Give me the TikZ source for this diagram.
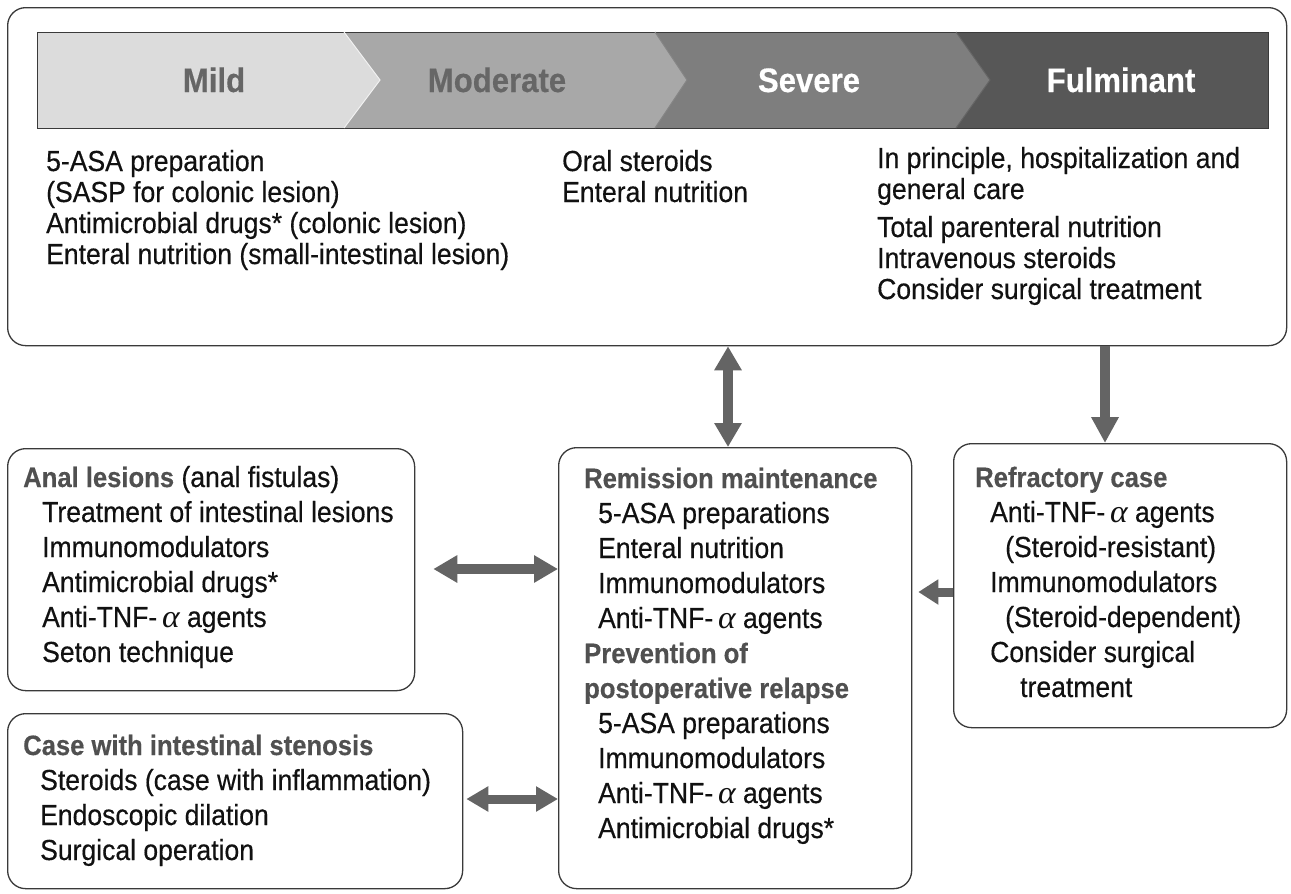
\documentclass[tikz,border=0pt]{standalone}
\usepackage{fontspec}
\setmainfont{Liberation Sans}[FakeStretch=0.915, FakeBold=0.4]
\newfontfamily\alf{Liberation Serif}[FakeStretch=1.05]
\usetikzlibrary{arrows.meta}
\definecolor{mildc}{HTML}{DCDCDC}
\definecolor{modc}{HTML}{A8A8A8}
\definecolor{sevc}{HTML}{7E7E7E}
\definecolor{fulc}{HTML}{575757}
\definecolor{hdtxt}{HTML}{666666}
\definecolor{headc}{HTML}{505050}
\definecolor{txt}{HTML}{111111}
\definecolor{arrc}{HTML}{646464}
\definecolor{framec}{HTML}{3A3A3A}
\newcommand{\ta}{Anti-TNF-\,{\alf\itshape\fontsize{32}{35}\selectfont α} agents}
\newcommand{\hb}[1]{{\fontsize{28}{35}\selectfont\bfseries\color{headc}#1}}
\begin{document}
\begin{tikzpicture}[x=1pt,y=-1pt,
  box/.style={draw=framec, line width=1.3pt, rounded corners=18pt, anchor=north west, inner sep=0pt},
  body/.style={anchor=base west, inner sep=0pt, text=txt, font=\fontsize{29}{35}\selectfont},
  bodytop/.style={body, font=\fontsize{29}{31}\selectfont},
  hd/.style={font=\fontsize{34}{36}\selectfont\bfseries},
  fat/.style={line width=10pt, draw=arrc, -{Triangle[length=26pt,width=26pt]}},
  fatboth/.style={line width=10pt, draw=arrc, {Triangle[length=24pt,width=26pt]}-{Triangle[length=24pt,width=26pt]}},
  seg/.style={draw=framec, line width=1pt}
]
\useasboundingbox (0,0) rectangle (1291,894);
\fill[white] (0,0) rectangle (1291,894);

% top box
\node[box, minimum width=1279pt, minimum height=338pt] (top) at (7,7) {};

% chevron band
\fill[mildc] (37,32) -- (344,32) -- (380,80) -- (344,128) -- (37,128) -- cycle;
\fill[modc] (344,32) -- (655,32) -- (687,80) -- (655,128) -- (344,128) -- (380,80) -- cycle;
\fill[sevc] (655,32) -- (956,32) -- (990,80) -- (956,128) -- (655,128) -- (687,80) -- cycle;
\fill[fulc] (956,32) -- (1268,32) -- (1268,128) -- (956,128) -- (990,80) -- cycle;
\draw[seg] (37,32) rectangle (1268,128);
\draw[draw=white!60!mildc, line width=1pt] (344,32) -- (380,80) -- (344,128);
\draw[draw=modc!80!black, line width=1pt] (655,32) -- (687,80) -- (655,128);
\draw[draw=sevc!80!black, line width=1pt] (956,32) -- (990,80) -- (956,128);

\node[hd, text=hdtxt, anchor=base] (mild) at (214,92) {Mild};
\node[hd, text=hdtxt, anchor=base] (moderate) at (497,92) {Moderate};
\node[hd, text=white, anchor=base] (severe) at (809,92) {Severe};
\node[hd, text=white, anchor=base] (fulminant) at (1121,92) {Fulminant};

% top box texts
\node[bodytop] (tl) at (46,171) {\begin{tabular}[t]{@{}l@{}}5-ASA preparation\\(SASP for colonic lesion)\\Antimicrobial drugs* (colonic lesion)\\Enteral nutrition (small-intestinal lesion)\end{tabular}};
\node[bodytop] (tm) at (562,171) {\begin{tabular}[t]{@{}l@{}}Oral steroids\\Enteral nutrition\end{tabular}};
\node[bodytop] (tr) at (877,168) {\begin{tabular}[t]{@{}l@{}}In principle, hospitalization and\\general care\\[7pt]Total parenteral nutrition\\Intravenous steroids\\Consider surgical treatment\end{tabular}};

% lower boxes
\node[box, minimum width=407pt, minimum height=242pt] (anal) at (7,448) {};
\node[box, minimum width=455pt, minimum height=175pt] (sten) at (7,713) {};
\node[box, minimum width=353pt, minimum height=441pt] (rem) at (558,447) {};
\node[box, minimum width=333pt, minimum height=284pt] (refr) at (953,443) {};

\node[body] (analtx) at (23,487) {\begin{tabular}[t]{@{}l@{}}\hb{Anal lesions} (anal fistulas)\\
\hspace*{19pt}Treatment of intestinal lesions\\
\hspace*{19pt}Immunomodulators\\
\hspace*{19pt}Antimicrobial drugs*\\
\hspace*{19pt}\ta\\
\hspace*{19pt}Seton technique\end{tabular}};

\node[body] (stentx) at (23,755) {\begin{tabular}[t]{@{}l@{}}\hb{Case with intestinal stenosis}\\
\hspace*{17pt}Steroids (case with inflammation)\\
\hspace*{17pt}Endoscopic dilation\\
\hspace*{17pt}Surgical operation\end{tabular}};

\node[body] (remtx) at (584,488) {\begin{tabular}[t]{@{}l@{}}\hb{Remission maintenance}\\
\hspace*{14pt}5-ASA preparations\\
\hspace*{14pt}Enteral nutrition\\
\hspace*{14pt}Immunomodulators\\
\hspace*{14pt}\ta\\
\hb{Prevention of}\\
\hb{postoperative relapse}\\
\hspace*{14pt}5-ASA preparations\\
\hspace*{14pt}Immunomodulators\\
\hspace*{14pt}\ta\\
\hspace*{14pt}Antimicrobial drugs*\end{tabular}};

\node[body] (refrtx) at (975,487) {\begin{tabular}[t]{@{}l@{}}\hb{Refractory case}\\
\hspace*{15pt}\ta\\
\hspace*{30pt}(Steroid-resistant)\\
\hspace*{15pt}Immunomodulators\\
\hspace*{30pt}(Steroid-dependent)\\
\hspace*{15pt}Consider surgical\\
\hspace*{45pt}treatment\end{tabular}};

% arrows
\coordinate (v1a) at (728,346);
\coordinate (v1b) at (728,447);
\draw[fatboth] (top.south -| v1a) -- (rem.north -| v1b);
\coordinate (v2) at (1105,346);
\draw[fat] (top.south -| v2) -- (refr.north -| v2);
\coordinate (h1) at (0,569);
\draw[fatboth, shorten <=18pt] (anal.east |- h1) -- (rem.west |- h1);
\coordinate (h2) at (0,799);
\draw[fatboth, line width=9pt, {Triangle[length=22pt,width=24pt]}-{Triangle[length=22pt,width=24pt]}, shorten <=3pt] (sten.east |- h2) -- (rem.west |- h2);
\coordinate (h3) at (0,592);
\draw[fat, line width=9pt, -{Triangle[length=20pt,width=24pt]}, shorten >=6pt] (refr.west |- h3) -- (rem.east |- h3);
\end{tikzpicture}
\end{document}
